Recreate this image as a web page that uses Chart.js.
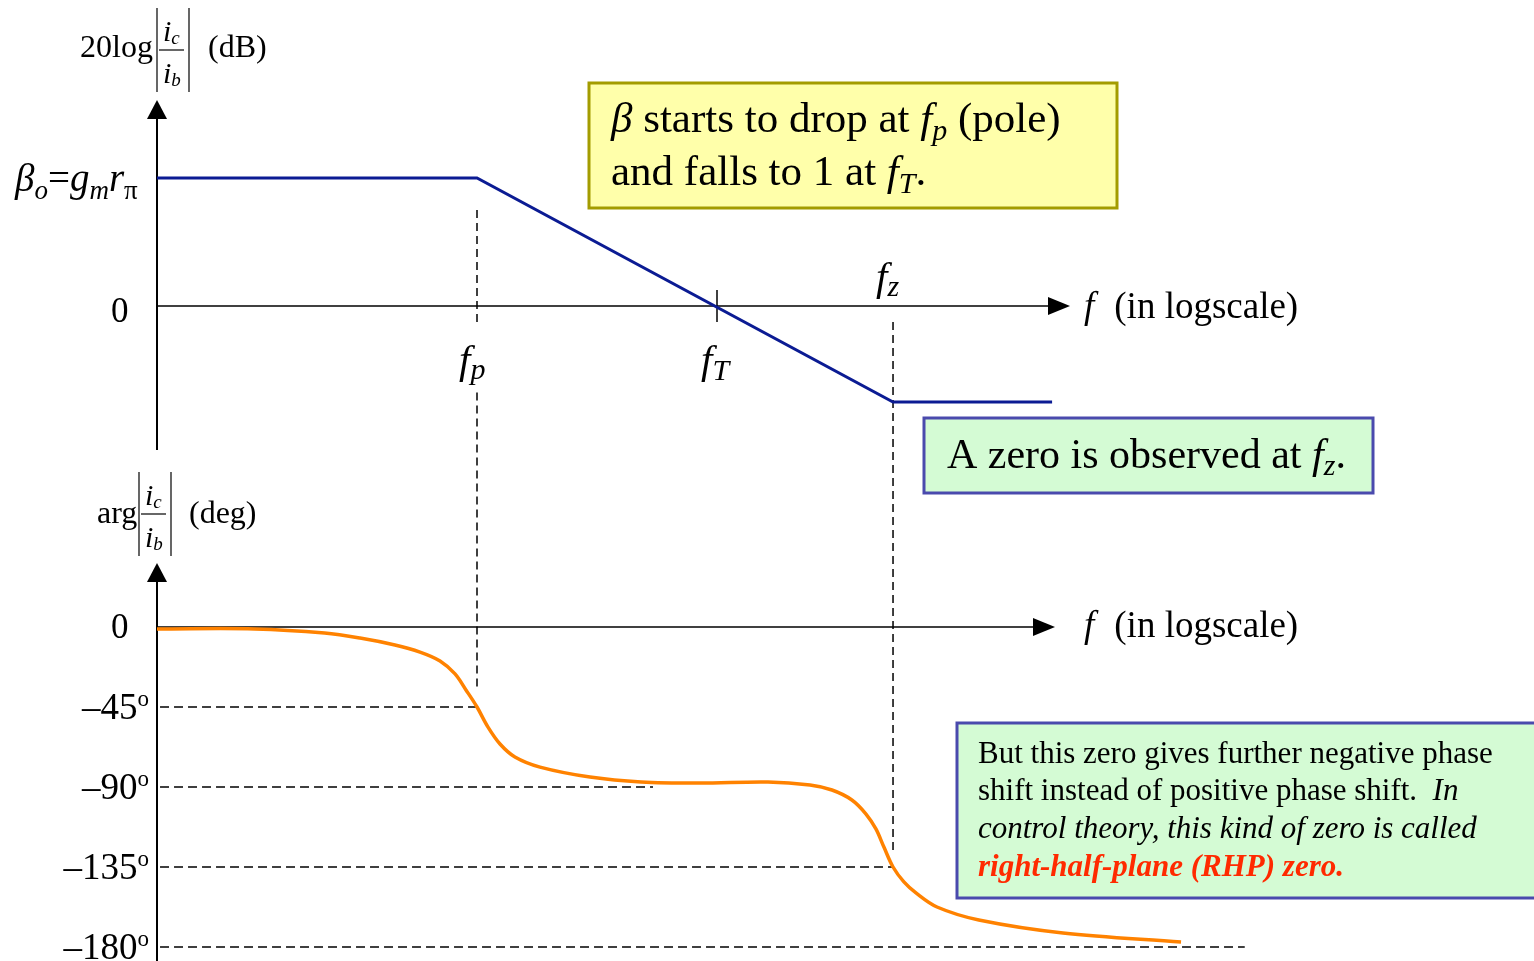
<!DOCTYPE html>
<html>
<head>
<meta charset="utf-8">
<script src="https://cdn.jsdelivr.net/npm/chart.js@4.4.0/dist/chart.umd.min.js"></script>
<style>
  html, body { margin: 0; padding: 0; background: #fff; overflow: hidden; }
  #bode { position: absolute; left: 0; top: 0; }
</style>
</head>
<body>
<canvas id="bode" width="1534" height="961"></canvas>
<script>
// corner frequencies (Hz, log axis)
const F_P = 1e6;
const F_T = 1e8;
const F_Z = 2.93e9;

// magnitude asymptote, dB
const magFreq = [2.154e3, 1e6, 2.93e9, 6.2e10];
const magDb = [40, 40, -30, -30];

// phase curve, degrees
const phaseFreq = [2.154e3, 1.41e4, 5.37e4, 1.06e5, 2.07e5, 3.35e5, 4.92e5, 6.56e5, 8.09e5, 1e6,
  1.235e6, 1.555e6, 2.07e6, 3.35e6, 8.74e6, 2.33e7, 7.21e7, 2.66e8, 5.96e8, 9.08e8,
  1.33e9, 1.745e9, 2.11e9, 2.46e9, 2.93e9, 3.61e9, 4.55e9, 6.81e9, 1.52e10, 7.64e10, 7.36e11];
const phaseDeg = [-1.1, -1.1, -3.4, -6.2, -10.1, -14.1, -19.1, -26.4, -35.4, -45,
  -56.3, -65.8, -73.1, -78.8, -84.4, -87.2, -87.8, -87.2, -88.9, -91.7,
  -97.3, -105.2, -113.6, -123.8, -135, -143.4, -149.6, -157.5, -164.8, -172.1, -177.2];

// phase tick labels and where their dashed guide stops
const degTicks = [-45, -90, -135, -180];
const degGuideEnd = [1e6, 2.93e7, 2.93e9, 2.5e12];

const SERIF = '"Liberation Serif", "Times New Roman", serif';
const fnt = (size, style) => (style || '') + ' ' + size + 'px ' + SERIF;

function runs(ctx, x, y, parts) {
  parts.forEach(p => {
    ctx.font = p.f;
    ctx.fillStyle = p.c || '#000';
    ctx.fillText(p.t, x, y + (p.dy || 0));
    x += ctx.measureText(p.t).width + (p.k || 0);
  });
  return x;
}
function runsWidth(ctx, parts) {
  let w = 0;
  parts.forEach(p => { ctx.font = p.f; w += ctx.measureText(p.t).width + (p.k || 0); });
  return w;
}
function seg(ctx, x1, y1, x2, y2) {
  ctx.beginPath(); ctx.moveTo(x1, y1); ctx.lineTo(x2, y2); ctx.stroke();
}
function arrowUp(ctx, x, tip) {
  ctx.beginPath(); ctx.moveTo(x, tip); ctx.lineTo(x - 10, tip + 19); ctx.lineTo(x + 10, tip + 19); ctx.closePath(); ctx.fill();
}
function arrowRight(ctx, tip, y) {
  ctx.beginPath(); ctx.moveTo(tip, y); ctx.lineTo(tip - 22, y - 9); ctx.lineTo(tip - 22, y + 9); ctx.closePath(); ctx.fill();
}
function box(ctx, x, y, w, h, fill, stroke) {
  ctx.fillStyle = fill; ctx.fillRect(x, y, w, h);
  ctx.strokeStyle = stroke; ctx.lineWidth = 3; ctx.strokeRect(x, y, w, h);
}
function fraction(ctx, x, barY) {
  ctx.lineWidth = 1.2;
  seg(ctx, x + 2, barY, x + 27, barY);
  runs(ctx, x + 6, barY - 9, [{t: 'i', f: fnt(30, 'italic')}, {t: 'c', f: fnt(19, 'italic'), dy: 3}]);
  runs(ctx, x + 6, barY + 33, [{t: 'i', f: fnt(30, 'italic')}, {t: 'b', f: fnt(19, 'italic'), dy: 3}]);
  seg(ctx, x, barY - 42, x, barY + 42);
  seg(ctx, x + 32, barY - 42, x + 32, barY + 42);
}

const decor = {
  id: 'decor',
  beforeDatasetsDraw(chart) {
    const {ctx, scales: {x, yMag, yPh}} = chart;
    const x0 = x.left;
    const m0 = yMag.getPixelForValue(0);
    const p0 = yPh.getPixelForValue(0);
    ctx.save();
    ctx.strokeStyle = '#000'; ctx.fillStyle = '#000';
    ctx.lineWidth = 2;
    seg(ctx, x0, m0 - 190, x0, m0 + 144);
    arrowUp(ctx, x0, m0 - 206);
    seg(ctx, x0, p0 - 46, x0, chart.height);
    arrowUp(ctx, x0, p0 - 64);
    ctx.lineWidth = 1.5;
    seg(ctx, x0, m0, 1050, m0); arrowRight(ctx, 1070, m0);
    seg(ctx, x0, p0, 1035, p0); arrowRight(ctx, 1055, p0);
    // fT tick
    const xt = x.getPixelForValue(F_T);
    seg(ctx, xt, yMag.getPixelForValue(5), xt, yMag.getPixelForValue(-5));
    // vertical guides
    ctx.setLineDash([8, 5]);
    const xp = x.getPixelForValue(F_P), xz = x.getPixelForValue(F_Z);
    seg(ctx, xp, yMag.getPixelForValue(30), xp, yMag.getPixelForValue(-5));
    seg(ctx, xp, yMag.getPixelForValue(-27), xp, yPh.getPixelForValue(-35));
    seg(ctx, xz, yMag.getPixelForValue(-5), xz, yPh.getPixelForValue(-128));
    ctx.restore();
  },
  afterDatasetsDraw(chart) {
    const {ctx, scales: {x, yMag, yPh}} = chart;
    const m0 = yMag.getPixelForValue(0);
    const p0 = yPh.getPixelForValue(0);
    ctx.save();
    ctx.textBaseline = 'alphabetic';
    ctx.strokeStyle = '#000';

    // magnitude axis title
    runs(ctx, 80, 57, [{t: '20log', f: fnt(32)}]);
    fraction(ctx, 157, 50);
    runs(ctx, 208, 57, [{t: '(dB)', f: fnt(32)}]);
    // phase axis title
    runs(ctx, 97, 523, [{t: 'arg', f: fnt(32)}]);
    fraction(ctx, 139, 514);
    runs(ctx, 189, 523, [{t: '(deg)', f: fnt(32)}]);

    // beta_o label
    runs(ctx, 15, yMag.getPixelForValue(40) + 13, [
      {t: 'β', f: fnt(39, 'italic')}, {t: 'o', f: fnt(27, 'italic'), dy: 8},
      {t: '=', f: fnt(39)}, {t: 'g', f: fnt(39, 'italic')}, {t: 'm', f: fnt(27, 'italic'), dy: 8},
      {t: 'r', f: fnt(39, 'italic')}, {t: 'π', f: fnt(27), dy: 8}]);

    // zeros
    runs(ctx, 111, m0 + 16, [{t: '0', f: fnt(35)}]);
    runs(ctx, 111, p0 + 11, [{t: '0', f: fnt(35)}]);

    // axis names
    [m0 + 12, p0 + 10].forEach(y => {
      runs(ctx, 1084, y, [{t: 'f', f: fnt(37, 'italic'), k: 20}, {t: '(in logscale)', f: fnt(37)}]);
    });

    // frequency labels
    const xp = x.getPixelForValue(F_P), xt = x.getPixelForValue(F_T), xz = x.getPixelForValue(F_Z);
    runs(ctx, xp - 18, m0 + 67, [{t: 'f', f: fnt(41, 'italic')}, {t: 'p', f: fnt(30, 'italic'), dy: 6}]);
    runs(ctx, xt - 16, m0 + 67, [{t: 'f', f: fnt(41, 'italic')}, {t: 'T', f: fnt(30, 'italic'), dy: 7}]);
    runs(ctx, xz - 17, m0 - 16, [{t: 'f', f: fnt(41, 'italic')}, {t: 'z', f: fnt(30, 'italic'), dy: 6}]);

    // degree labels
    degTicks.forEach(d => {
      const parts = [{t: '\u2013' + Math.abs(d), f: fnt(37)}, {t: 'o', f: fnt(23), dy: -13}];
      const w = runsWidth(ctx, parts);
      runs(ctx, 149 - w, yPh.getPixelForValue(d) + 12, parts);
    });

    // yellow note
    box(ctx, 589, 83, 528, 125, '#FFFFAA', '#A39C00');
    runs(ctx, 611, 132, [{t: 'β', f: fnt(43, 'italic')}, {t: ' starts to drop at ', f: fnt(43)},
      {t: 'f', f: fnt(43, 'italic')}, {t: 'p', f: fnt(30, 'italic'), dy: 8}, {t: ' (pole)', f: fnt(43)}]);
    runs(ctx, 611, 185, [{t: 'and falls to 1 at ', f: fnt(43)}, {t: 'f', f: fnt(43, 'italic')},
      {t: 'T', f: fnt(30, 'italic'), dy: 8}, {t: '.', f: fnt(43)}]);

    // green notes
    box(ctx, 924, 418, 449, 75, '#D4FBD4', '#4A4AAD');
    runs(ctx, 947, 468, [{t: 'A zero is observed at ', f: fnt(42)}, {t: 'f', f: fnt(42, 'italic')},
      {t: 'z', f: fnt(30, 'italic'), dy: 7}, {t: '.', f: fnt(42)}]);

    box(ctx, 957, 723, 600, 175, '#D4FBD4', '#4A4AAD');
    runs(ctx, 978, 763, [{t: 'But this zero gives further negative phase', f: fnt(31)}]);
    runs(ctx, 978, 800, [{t: 'shift instead of positive phase shift.  ', f: fnt(31)}, {t: 'In', f: fnt(31, 'italic')}]);
    runs(ctx, 978, 838, [{t: 'control theory, this kind of zero is called', f: fnt(31, 'italic')}]);
    runs(ctx, 978, 876, [{t: 'right-half-plane (RHP) zero.', f: fnt(31, 'italic bold'), c: '#FF2A00'}]);
    ctx.restore();
  }
};

const guideSets = degTicks.map((d, i) => ({
  data: [{x: 2.154e3 * 1.06, y: d}, {x: degGuideEnd[i], y: d}],
  yAxisID: 'yPh', borderColor: '#000', borderWidth: 1.5, borderDash: [9, 5],
  pointRadius: 0, order: 5, clip: false
}));

new Chart(document.getElementById('bode'), {
  type: 'line',
  data: {
    datasets: [
      {
        data: magFreq.map((f, i) => ({x: f, y: magDb[i]})),
        yAxisID: 'yMag', borderColor: '#0B1B93', borderWidth: 3,
        pointRadius: 0, tension: 0, order: 0, clip: false
      },
      {
        data: phaseFreq.map((f, i) => ({x: f, y: phaseDeg[i]})),
        yAxisID: 'yPh', borderColor: '#FF8200', borderWidth: 3.5,
        pointRadius: 0, tension: 0.35, order: 0, clip: false
      },
      ...guideSets
    ]
  },
  options: {
    responsive: false,
    animation: false,
    devicePixelRatio: 1,
    layout: {padding: {left: 157, right: 0, top: 0, bottom: 0}},
    plugins: {legend: {display: false}, tooltip: {enabled: false}},
    scales: {
      x: {type: 'logarithmic', display: false, min: Math.pow(10, 6 - 320 / 120), max: Math.pow(10, 6 + 1057 / 120)},
      yMag: {type: 'linear', display: false, min: -204.6875, max: 95.625},
      yPh: {type: 'linear', display: false, min: -187.875, max: 352.6875}
    }
  },
  plugins: [decor]
});
</script>
</body>
</html>
